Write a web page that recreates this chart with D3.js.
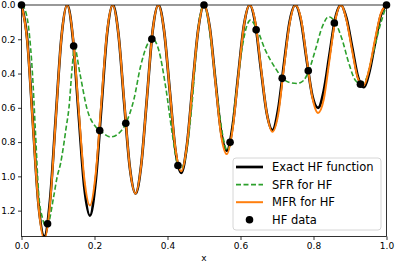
<!DOCTYPE html>
<html>
<head>
<meta charset="utf-8">
<script src="https://cdn.jsdelivr.net/npm/d3@7"></script>
<style>
  body { margin: 0; background: #fff; }
  svg { font-family: "DejaVu Sans", sans-serif; }
</style>
</head>
<body>
<script>
let xGrid = [0,0.015625,0.03125,0.046875,0.0625,0.078125,0.09375,0.109375,0.125,
  0.140625,0.15625,0.171875,0.1875,0.203125,0.21875,0.234375,0.25,
  0.265625,0.28125,0.296875,0.3125,0.328125,0.34375,0.359375,0.375,
  0.390625,0.40625,0.421875,0.4375,0.453125,0.46875,0.484375,0.5,
  0.515625,0.53125,0.546875,0.5625,0.578125,0.59375,0.609375,0.625,
  0.640625,0.65625,0.671875,0.6875,0.703125,0.71875,0.734375,0.75,
  0.765625,0.78125,0.796875,0.8125,0.828125,0.84375,0.859375,0.875,
  0.890625,0.90625,0.921875,0.9375,0.953125,0.96875,0.984375,1];

// exact HF function
let exactHF = [0,0.20,0.69,1.17,1.35,1.14,0.66,0.19,0,
  0.19,0.63,1.06,1.23,1.03,0.60,0.17,0,
  0.17,0.57,0.95,1.10,0.93,0.54,0.15,0,
  0.15,0.50,0.85,0.98,0.82,0.47,0.14,0,
  0.13,0.44,0.74,0.85,0.71,0.41,0.12,0,
  0.11,0.38,0.63,0.73,0.61,0.35,0.10,0,
  0.09,0.32,0.53,0.60,0.50,0.29,0.08,0,
  0.08,0.25,0.42,0.48,0.39,0.22,0.06,0];

// MFR for HF
let mfrHF = [0,0.21,0.70,1.18,1.37,1.16,0.67,0.19,0,
  0.18,0.60,1.01,1.17,0.99,0.57,0.16,0,
  0.17,0.56,0.95,1.10,0.93,0.54,0.15,0,
  0.15,0.50,0.84,0.97,0.82,0.47,0.14,0,
  0.13,0.45,0.76,0.87,0.73,0.42,0.12,0,
  0.10,0.37,0.63,0.74,0.64,0.37,0.11,0,
  0.08,0.31,0.54,0.63,0.55,0.32,0.09,0,
  0.09,0.27,0.43,0.47,0.37,0.20,0.05,0];

// SFR for HF
let sfrX = [0,0.01,0.02,0.03,0.038,0.047,0.057,0.066,0.073,0.088,0.098,0.107,0.116,0.122,0.130,0.139,0.145,
  0.16,0.18,0.203,0.214,0.244,0.271,0.286,0.308,0.326,0.344,0.358,0.376,0.395,0.413,0.427,0.436,0.449,
  0.468,0.481,0.49,0.5,0.51,0.522,0.541,0.554,0.563,0.573,0.586,0.605,0.618,0.627,0.646,0.668,0.696,
  0.716,0.737,0.755,0.773,0.787,0.805,0.824,0.842,0.860,0.879,0.897,0.915,0.929,0.942,0.961,0.979,1.0];
let sfrY = [0,0.03,0.14,0.40,0.73,1.10,1.24,1.29,1.277,1.12,1.0,0.925,0.81,0.72,0.60,0.36,0.245,
  0.40,0.61,0.71,0.73,0.77,0.74,0.69,0.55,0.36,0.234,0.195,0.263,0.478,0.75,0.925,0.96,0.89,
  0.556,0.20,0.05,0,0.07,0.263,0.614,0.79,0.848,0.80,0.556,0.244,0.117,0.088,0.146,0.263,0.37,
  0.429,0.454,0.458,0.44,0.384,0.263,0.127,0.068,0.103,0.205,0.341,0.44,0.458,0.44,0.302,0.146,0];

// HF data points
let hfX = [0,0.0714,0.1429,0.2143,0.2857,0.3571,0.4286,0.5,0.5714,0.6429,0.7143,0.7857,0.8571,0.9286,1];
let hfY = [0,1.277,0.239,0.733,0.690,0.199,0.937,0,0.801,0.145,0.428,0.384,0.105,0.462,0];

// axis ticks
let xTicks = [0,0.2,0.4,0.6,0.8,1.0];
let yTicks = [0,0.2,0.4,0.6,0.8,1.0,1.2];

// canvas + margins
let width = 395, height = 263;
let margin = {left:21.5, right:8.5, top:5, bottom:26.5};
let w = width - margin.left - margin.right;
let h = height - margin.top - margin.bottom;

let x = d3.scaleLinear().domain([0,1]).range([0,w]);
let y = d3.scaleLinear().domain([0,1.351]).range([0,h]);

let svg = d3.select("body").append("svg").attr("width",width).attr("height",height);
let g = svg.append("g").attr("transform","translate("+margin.left+","+margin.top+")");

g.append("clipPath").attr("id","clip").append("rect").attr("width",w).attr("height",h);
let plot = g.append("g").attr("clip-path","url(#clip)");

let line = d3.line().x(d => x(d[0])).y(d => y(d[1])).curve(d3.curveMonotoneX);

// black exact line
plot.append("path").attr("d",line(d3.zip(xGrid,exactHF)))
  .attr("fill","none").attr("stroke","#000").attr("stroke-width",2.7);

// green dashed SFR
plot.append("path").attr("d",line(d3.zip(sfrX,sfrY)))
  .attr("fill","none").attr("stroke","#2ca02c").attr("stroke-width",1.6)
  .attr("stroke-dasharray","5,2.5");

// orange MFR
plot.append("path").attr("d",line(d3.zip(xGrid,mfrHF)))
  .attr("fill","none").attr("stroke","#ff7f0e").attr("stroke-width",2);

// HF data dots (not clipped)
g.selectAll("circle.pt").data(d3.zip(hfX,hfY)).enter().append("circle")
  .attr("class","pt").attr("cx",d => x(d[0])).attr("cy",d => y(d[1])).attr("r",3.8).attr("fill","#000");

// axes
let xAxis = d3.axisBottom(x).tickValues(xTicks).tickFormat(d3.format(".1f")).tickSize(3.5).tickPadding(3);
let yAxis = d3.axisLeft(y).tickValues(yTicks).tickFormat(d3.format(".1f")).tickSize(3.5).tickPadding(2.5);

let gx = g.append("g").attr("transform","translate(0,"+h+")").call(xAxis);
let gy = g.append("g").call(yAxis);
[gx,gy].forEach(a => {
  a.select(".domain").remove();
  a.selectAll("text").attr("font-size",9).attr("font-family","DejaVu Sans").attr("fill","#000");
  a.selectAll("line").attr("stroke","#000").attr("stroke-width",0.8);
});

// frame
g.append("rect").attr("width",w).attr("height",h).attr("fill","none")
  .attr("stroke","#000").attr("stroke-width",0.8);

// x label
svg.append("text").attr("x",margin.left + w/2).attr("y",261).attr("text-anchor","middle")
  .attr("font-size",9).text("x");

// legend
let legendItems = ["Exact HF function","SFR for HF","MFR for HF","HF data"];
let lg = svg.append("g").attr("transform","translate(233,158)");
lg.append("rect").attr("width",148).attr("height",72).attr("rx",3)
  .attr("fill","#fff").attr("fill-opacity",0.8).attr("stroke","#ccc").attr("stroke-width",0.8);
legendItems.forEach((t,i) => {
  let yy = 9 + i*17.6;
  if (i < 3) {
    let ln = lg.append("line").attr("x1",3).attr("x2",30).attr("y1",yy).attr("y2",yy);
    if (i == 0) ln.attr("stroke","#000").attr("stroke-width",2.7);
    if (i == 1) ln.attr("stroke","#2ca02c").attr("stroke-width",1.6).attr("stroke-dasharray","5,2.5");
    if (i == 2) ln.attr("stroke","#ff7f0e").attr("stroke-width",2);
  } else {
    lg.append("circle").attr("cx",16.5).attr("cy",yy).attr("r",3.8).attr("fill","#000");
  }
  lg.append("text").attr("x",39).attr("y",yy).attr("dy","0.36em").attr("font-size",11.5).text(t);
});
</script>
</body>
</html>
